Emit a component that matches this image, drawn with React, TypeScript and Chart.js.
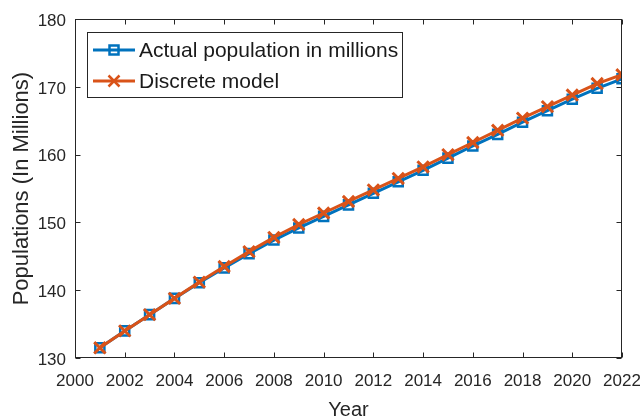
import { useEffect, useRef } from "react";
import { Chart, registerables } from "chart.js";
import type { Plugin, ChartDataset } from "chart.js";

Chart.register(...registerables);

const years = [
  2001, 2002, 2003, 2004, 2005, 2006, 2007, 2008, 2009, 2010, 2011, 2012,
  2013, 2014, 2015, 2016, 2017, 2018, 2019, 2020, 2021, 2022,
];

const actualPopulation = [
  131.5, 134.0, 136.4, 138.8, 141.1, 143.3, 145.4, 147.4, 149.2, 150.9, 152.6,
  154.3, 156.0, 157.7, 159.5, 161.3, 163.0, 164.8, 166.5, 168.2, 169.8, 171.2,
];

const discreteModel = [
  131.5, 134.0, 136.4, 138.8, 141.2, 143.5, 145.7, 147.8, 149.7, 151.4, 153.1,
  154.8, 156.5, 158.2, 160.0, 161.8, 163.6, 165.4, 167.1, 168.8, 170.5, 171.8,
];

const yearTicks = [2000, 2002, 2004, 2006, 2008, 2010, 2012, 2014, 2016, 2018, 2020, 2022];
const populationTicks = [130, 140, 150, 160, 170, 180];

const seriesNames = ["Actual population in millions", "Discrete model"];

const FONT = '"Liberation Sans", Arial, Helvetica, sans-serif';
const AXIS_COLOR = "#262626";
const BLUE = "#0072BD";
const ORANGE = "#D95319";

function drawMarker(ctx: CanvasRenderingContext2D, style: string, x: number, y: number, color: string) {
  ctx.strokeStyle = color;
  ctx.lineWidth = 2.5;
  if (style === "rect") {
    ctx.strokeRect(x - 4.5, y - 4.5, 9, 9);
  } else {
    ctx.beginPath();
    ctx.moveTo(x - 5.5, y - 5.5);
    ctx.lineTo(x + 5.5, y + 5.5);
    ctx.moveTo(x + 5.5, y - 5.5);
    ctx.lineTo(x - 5.5, y + 5.5);
    ctx.stroke();
  }
}

// box around the plot with inward tick marks, MATLAB style
const boxPlugin: Plugin<"line"> = {
  id: "matlabBox",
  afterDatasetsDraw(chart) {
    const { ctx, chartArea } = chart;
    const { left, right, top, bottom } = chartArea;
    const xs = chart.scales.x;
    const ys = chart.scales.y;
    const tick = 5;
    ctx.save();
    ctx.strokeStyle = AXIS_COLOR;
    ctx.lineWidth = 1;
    const l = Math.round(left) + 0.5;
    const r = Math.round(right) - 0.5;
    const t = Math.round(top) + 0.5;
    const b = Math.round(bottom) - 0.5;
    ctx.strokeRect(l, t, r - l, b - t);
    ctx.beginPath();
    yearTicks.forEach((v) => {
      const px = Math.round(xs.getPixelForValue(v)) + 0.5;
      ctx.moveTo(px, b);
      ctx.lineTo(px, b - tick);
      ctx.moveTo(px, t);
      ctx.lineTo(px, t + tick);
    });
    populationTicks.forEach((v) => {
      const py = Math.round(ys.getPixelForValue(v)) + 0.5;
      ctx.moveTo(l, py);
      ctx.lineTo(l + tick, py);
      ctx.moveTo(r, py);
      ctx.lineTo(r - tick, py);
    });
    ctx.stroke();
    ctx.restore();
  },
};

const legendPlugin: Plugin<"line"> = {
  id: "boxLegend",
  afterDraw(chart) {
    const { ctx } = chart;
    const x0 = 87;
    const y0 = 32;
    const w = 315;
    const h = 65;
    ctx.save();
    ctx.fillStyle = "#ffffff";
    ctx.fillRect(x0, y0, w, h);
    ctx.strokeStyle = AXIS_COLOR;
    ctx.lineWidth = 1;
    ctx.strokeRect(x0 + 0.5, y0 + 0.5, w, h);
    chart.data.datasets.forEach((ds, i) => {
      const cy = y0 + 18 + i * 31;
      const color = ds.borderColor as string;
      ctx.strokeStyle = color;
      ctx.lineWidth = 3;
      ctx.beginPath();
      ctx.moveTo(x0 + 6, cy);
      ctx.lineTo(x0 + 48, cy);
      ctx.stroke();
      drawMarker(ctx, (ds as any).pointStyle, x0 + 27, cy, color);
      ctx.fillStyle = "#1a1a1a";
      ctx.font = `21px ${FONT}`;
      ctx.textBaseline = "middle";
      ctx.textAlign = "left";
      ctx.fillText(ds.label as string, x0 + 52, cy + 1);
    });
    ctx.restore();
  },
};

export default function App() {
  const canvasRef = useRef<HTMLCanvasElement>(null);

  useEffect(() => {
    if (!canvasRef.current) return;

    const datasets: ChartDataset<"line", { x: number; y: number }[]>[] = [
      {
        label: seriesNames[0],
        data: years.map((year, i) => ({ x: year, y: actualPopulation[i] })),
        borderColor: BLUE,
        backgroundColor: BLUE,
        borderWidth: 3,
        pointStyle: "rect",
        pointRadius: 6.4,
        pointBorderWidth: 2.5,
        pointBorderColor: BLUE,
        pointBackgroundColor: "rgba(0,0,0,0)",
        order: 1,
      },
      {
        label: seriesNames[1],
        data: years.map((year, i) => ({ x: year, y: discreteModel[i] })),
        borderColor: ORANGE,
        backgroundColor: ORANGE,
        borderWidth: 3,
        pointStyle: "crossRot",
        pointRadius: 8,
        pointBorderWidth: 3,
        pointBorderColor: ORANGE,
        order: 0,
      },
    ];

    const chart = new Chart(canvasRef.current, {
      type: "line",
      data: { datasets },
      options: {
        animation: false,
        responsive: true,
        maintainAspectRatio: false,
        layout: { padding: { top: 18, right: 18, left: 0, bottom: 0 } },
        plugins: {
          legend: { display: false },
          tooltip: { enabled: false },
        },
        scales: {
          x: {
            type: "linear",
            min: 2000,
            max: 2022,
            afterBuildTicks: (scale) => {
              scale.ticks = yearTicks.map((value) => ({ value }));
            },
            afterFit: (scale) => {
              scale.height = 61;
              scale.paddingLeft = 0;
              scale.paddingRight = 0;
            },
            grid: { display: false, drawTicks: false },
            border: { display: false },
            ticks: {
              color: AXIS_COLOR,
              font: { family: FONT, size: 17 },
              padding: 13,
              maxRotation: 0,
              autoSkip: false,
              callback: (value) => String(value),
            },
            title: {
              display: true,
              text: "Year",
              color: AXIS_COLOR,
              font: { family: FONT, size: 20, lineHeight: 1 },
              padding: { top: 0, bottom: -1 },
            },
          },
          y: {
            min: 130,
            max: 180,
            afterBuildTicks: (scale) => {
              scale.ticks = populationTicks.map((value) => ({ value }));
            },
            afterFit: (scale) => {
              scale.width = 75;
            },
            grid: { display: false, drawTicks: false },
            border: { display: false },
            ticks: {
              color: AXIS_COLOR,
              font: { family: FONT, size: 17 },
              padding: 9,
              labelOffset: 2,
              callback: (value) => String(value),
            },
            title: {
              display: true,
              text: "Populations (In Millions)",
              color: AXIS_COLOR,
              font: { family: FONT, size: 22, lineHeight: 1.2 },
              padding: { top: 9, bottom: 0 },
            },
          },
        },
      },
      plugins: [boxPlugin, legendPlugin],
    });

    return () => chart.destroy();
  }, []);

  return (
    <div
      style={{
        position: "fixed",
        left: 0,
        top: 0,
        width: 640,
        height: 419,
        background: "#ffffff",
      }}
    >
      <canvas ref={canvasRef}></canvas>
    </div>
  );
}
